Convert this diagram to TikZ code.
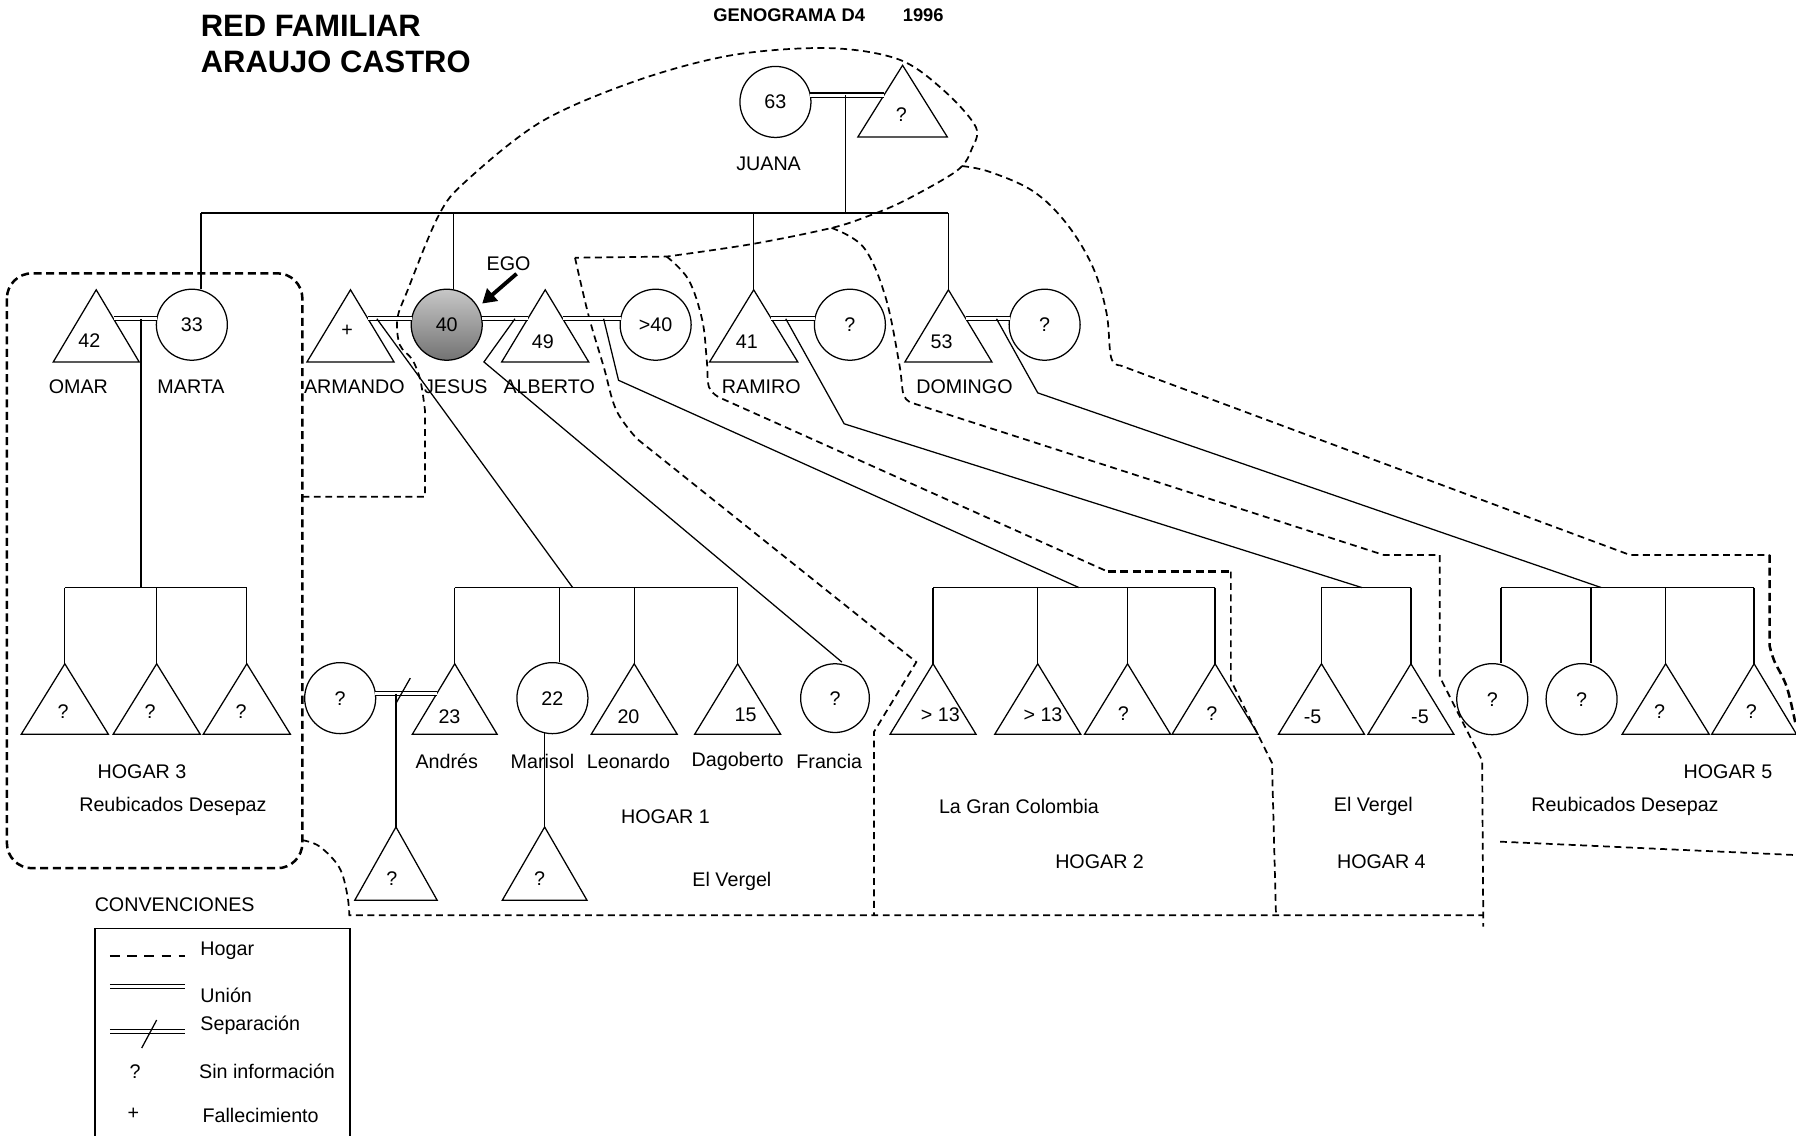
\documentclass[tikz,border=0pt]{standalone}
\usepackage{fontspec}
\setmainfont{Liberation Sans}
\usetikzlibrary{arrows.meta}
\newcommand\fs{\fontsize{8.6}{10}\selectfont}
% name, apex x, apex y, height, half width
\newcommand\Tri[5]{%
  \coordinate (#1) at (#2,#3);
  \draw[person] (#1) -- ++(-#5,#4) -- ++(2*#5,0) -- cycle;}
\begin{document}
\begin{tikzpicture}[x=0.5pt,y=-0.5pt,
  person/.style={line width=0.55pt, line join=miter},
  link/.style={line width=0.55pt},
  circ/.style={circle, draw, line width=0.55pt, minimum size=31pt, inner sep=0pt, font=\fs},
  lbl/.style={font=\fs, inner sep=0pt},
  uni/.style={double, double distance=1.3pt, line width=0.5pt},
  hog/.style={line width=0.75pt, dash pattern=on 3pt off 2pt},
  hogT/.style={line width=1.1pt, dash pattern=on 3.5pt off 2pt},
  egoarrow/.style={line width=1.7pt, -{Triangle[length=6pt,width=7pt]}}
]
\fill[white] (0,0) rectangle (1568,991);
\useasboundingbox (0,0) rectangle (1568,991);

% ---------- titles ----------
\node[anchor=west, inner sep=0, font=\bfseries\fontsize{13.5}{15}\selectfont] (t1) at (175,23) {RED FAMILIAR};
\node[anchor=west, inner sep=0, font=\bfseries\fontsize{13.5}{15}\selectfont] (t2) at (175,54) {ARAUJO CASTRO};
\node[inner sep=0, font=\bfseries\fontsize{8}{9}\selectfont] (t3) at (689,13) {GENOGRAMA D4};
\node[inner sep=0, font=\bfseries\fontsize{8}{9}\selectfont] (t4) at (806,13) {1996};

% ---------- dashed households ----------
\draw[hogT, rounded corners=11pt] (6,238.6) rectangle (264,758);
\draw[hog] (264,433.6) -- (371,433.6) -- (371,362) -- plot[smooth,tension=0.55] coordinates {(371,358) (367,332) (360,314) (349,301) (347,278) (356,253) (383,188) (407,158) (473,106) (557,70) (640,48) (724,42) (785,52) (824,79) (852,111) (848,131) (840,145) (823,157) (786,177) (757,189) (726,199) (657,213) (582,224)} -- (502,225);
\draw[hog] plot[smooth,tension=0.6] coordinates {(502,225) (514,276) (527,320) (538,358) (556,383)} -- (800,578) -- (763,639) -- (763,799);
\draw[hog] plot[smooth,tension=0.6] coordinates {(582,224) (601,244) (613,279) (617,314) (619,338) (628,347)} -- (967,499);
\draw[hogT] (967,499) -- (1074.6,499);
\draw[hog] (1074.6,499) -- (1074.6,594) -- (1110.5,666) -- (1114,799);
\draw[hog] plot[smooth,tension=0.6] coordinates {(726,199) (754,216) (773,259) (785,317) (789,345) (797,352)} -- (1208,484.5) -- (1257,484.5) -- (1257,591) -- (1294,664) -- (1295,809);
\draw[hog] plot[smooth,tension=0.6] coordinates {(840,145) (864,150) (902,167) (931,195) (954,233) (966,273) (970,312) (978,319)} -- (1423,484.5) -- (1545,484.5);
\draw[hogT] (1545,484.5) -- (1545,564) -- plot[smooth,tension=0.6] coordinates {(1545,564) (1549,577) (1560,600) (1568,634)};
\draw[hog] plot[smooth,tension=0.6] coordinates {(264,733.5) (279,739) (296,757) (303,780) (305,799)} -- (1295,799);
\draw[hog] (1309.6,734.8) -- (1568,746.5);

% ---------- generation 1 ----------
\node[circ] (juana) at (677,89) {63};
\Tri{jp}{788}{57}{62.5}{39}
\node[lbl] (jpq) at (787,100) {?};
\node[lbl] (njuana) at (671,142.6) {JUANA};
\coordinate (uJa) at (707.5,83);
\coordinate (uJb) at (772,83);
\coordinate (uJm) at (738,83);
\coordinate (sJ) at (738,186);
\draw[uni] (uJa) -- (uJb);
\draw[link] (uJm) -- (sJ);

% sibling bar
\coordinate (sbL) at (175.5,186);
\coordinate (sbR) at (828,186);
\coordinate (sJe) at (396,186);
\coordinate (sRa) at (658,186);
\draw[link] (sbL) -- (sbR);

% ---------- generation 2 ----------
\Tri{omar}{84}{253}{63}{37.5}
\node[lbl] (nomar42) at (78,297) {42};
\node[circ] (marta) at (167.5,283.5) {33};
\Tri{armando}{306}{253}{63}{38}
\node[lbl] (narm) at (303,289) {+};
\node[circ, top color=black!22, bottom color=black!55] (jesus) at (390,283.5) {40};
\Tri{alberto}{476}{253}{63}{38}
\node[lbl] (nalb49) at (474,298) {49};
\node[circ] (gt) at (572.4,283.5) {>40};
\Tri{ramiro}{658}{253}{63}{38.5}
\node[lbl] (nram41) at (652,298) {41};
\node[circ] (rp) at (742,283.5) {?};
\Tri{domingo}{828}{253}{63}{38}
\node[lbl] (ndom53) at (822,298) {53};
\node[circ] (dp) at (912,283.5) {?};

\draw[link] (sbL) -- (sbL |- marta.north);
\draw[link] (sJe) -- (sJe |- jesus.north);
\draw[link] (sRa) -- (ramiro);
\draw[link] (sbR) -- (domingo);

\node[lbl] (lomar) at (68.4,337.6) {OMAR};
\node[lbl] (lmarta) at (166.8,337.6) {MARTA};
\node[lbl] (larm) at (309.4,337.6) {ARMANDO};
\node[lbl] (ljes) at (398,337.6) {JESUS};
\node[lbl] (lalb) at (479.5,337.6) {ALBERTO};
\node[lbl] (lram) at (664.7,337.6) {RAMIRO};
\node[lbl] (ldom) at (842,337.6) {DOMINGO};

% EGO
\node[lbl] (ego) at (444,230) {EGO};
\coordinate (egoA) at (451,239);
\coordinate (egoB) at (421,265);
\draw[egoarrow] (egoA) -- (egoB);

% unions gen 2
\coordinate (uOMa) at (99.5,278.3);  \coordinate (uOMb) at (137,278.3);  \coordinate (uOMm) at (123,278.3);
\coordinate (uAJa) at (321.3,278.3); \coordinate (uAJb) at (359.4,278.3); \coordinate (uAJm) at (329,278.3);
\coordinate (uJAa) at (420.6,278.3); \coordinate (uJAb) at (460.7,278.3); \coordinate (uJAm) at (449.6,278.3);
\coordinate (uAGa) at (491.3,278.3); \coordinate (uAGb) at (541.8,278.3); \coordinate (uAGm) at (527,278.3);
\coordinate (uRPa) at (673.5,278.3); \coordinate (uRPb) at (711.4,278.3); \coordinate (uRPm) at (686,278.3);
\coordinate (uDPa) at (843,278.3);   \coordinate (uDPb) at (881.4,278.3); \coordinate (uDPm) at (870,278.3);
\draw[uni] (uOMa) -- (uOMb);
\draw[uni] (uAJa) -- (uAJb);
\draw[uni] (uJAa) -- (uJAb);
\draw[uni] (uAGa) -- (uAGb);
\draw[uni] (uRPa) -- (uRPb);
\draw[uni] (uDPa) -- (uDPb);

% child bars
\coordinate (h3p) at (123,513);
\coordinate (h3L) at (56.6,513);  \coordinate (h3M) at (136.8,513); \coordinate (h3R) at (215.5,513);
\coordinate (h1p) at (500,513);
\coordinate (h1L) at (397,513);   \coordinate (h1M) at (488.6,513); \coordinate (h1N) at (553.7,513); \coordinate (h1R) at (644,513);
\coordinate (h2p) at (942,513);
\coordinate (h2L) at (814.6,513); \coordinate (h2M) at (906,513);   \coordinate (h2N) at (984.4,513); \coordinate (h2R) at (1060.8,513);
\coordinate (h4p) at (1189,513);
\coordinate (h4L) at (1153.7,513); \coordinate (h4R) at (1231.8,513);
\coordinate (h5p) at (1398,513);
\coordinate (h5L) at (1310.5,513); \coordinate (h5M) at (1389,513); \coordinate (h5N) at (1454.2,513); \coordinate (h5R) at (1531.4,513);
\draw[link] (h3L) -- (h3R);
\draw[link] (h1L) -- (h1R);
\draw[link] (h2L) -- (h2R);
\draw[link] (h4L) -- (h4R);
\draw[link] (h5L) -- (h5R);

% descents
\coordinate (bJA) at (422.5,316);
\coordinate (bAG) at (540,332);
\coordinate (bRP) at (737,370);
\coordinate (bDP) at (906,343);
\coordinate (fTop) at (735,578);
\draw[link] (uOMm) -- (h3p);
\draw[link] (uAJm) -- (h1p);
\draw[link] (uJAm) -- (bJA) -- (fTop);
\draw[link] (uAGm) -- (bAG) -- (h2p);
\draw[link] (uRPm) -- (bRP) -- (h4p);
\draw[link] (uDPm) -- (bDP) -- (h5p);

% ---------- generation 3 ----------
% Hogar 3
\Tri{h3a}{56.6}{579.5}{61.5}{38}
\Tri{h3b}{136.8}{579.5}{61.5}{38}
\Tri{h3c}{215.5}{579.5}{61.5}{38}
\draw[link] (h3L) -- (h3a);
\draw[link] (h3M) -- (h3b);
\draw[link] (h3R) -- (h3c);
\node[lbl] (q3a) at (55,621) {?};
\node[lbl] (q3b) at (131,621) {?};
\node[lbl] (q3c) at (210.5,621) {?};
\node[lbl] (hog3) at (124,673.7) {HOGAR 3};
\node[lbl] (rd3) at (151,703.7) {Reubicados Desepaz};

% Hogar 1
\Tri{andres}{397}{579.5}{61.5}{37}
\node[lbl] (n23) at (392.4,625.7) {23};
\node[circ] (marisol) at (482.3,609.5) {22};
\Tri{leonardo}{553.7}{579.5}{61.5}{37.5}
\node[lbl] (n20) at (548.7,625.7) {20};
\Tri{dagoberto}{644}{579.5}{61.5}{37.5}
\node[lbl] (n15) at (651,624) {15};
\node[circ, minimum size=30pt] (francia) at (729,609.5) {?};
\node[circ] (ap) at (297,609.5) {?};
\draw[link] (h1L) -- (andres);
\draw[link] (h1M) -- (h1M |- marisol.north);
\draw[link] (h1N) -- (leonardo);
\draw[link] (h1R) -- (dagoberto);
% separation
\coordinate (sepA) at (327.6,605.5);
\coordinate (sepB) at (381.6,605.5);
\coordinate (sepM) at (345.7,605.5);
\coordinate (slA) at (345.7,614);
\coordinate (slB) at (358.2,592);
\draw[uni] (sepA) -- (sepB);
\draw[link] (slA) -- (slB);
\Tri{ac}{345.7}{722}{64}{36}
\draw[link] (sepM) -- (ac);
\node[lbl] (qac) at (342,766.7) {?};
\coordinate (mcs) at (475.5,639.7);
\Tri{mc}{475.5}{722}{64}{37}
\draw[link] (mcs) -- (mc);
\node[lbl] (qmc) at (471,767) {?};
\node[lbl] (landres) at (390,665) {Andrés};
\node[lbl] (lmarisol) at (473.6,665) {Marisol};
\node[lbl] (lleo) at (548.7,665) {Leonardo};
\node[lbl] (ldago) at (644,665) {Dagoberto};
\node[lbl] (lfran) at (724,665) {Francia};
\node[lbl] (hog1) at (581,713) {HOGAR 1};
\node[lbl] (ev1) at (639,769.8) {El Vergel};

% Hogar 2
\Tri{g2a}{814.6}{579.5}{61.5}{37.5}
\Tri{g2b}{906}{579.5}{61.5}{37.5}
\Tri{g2c}{984.4}{579.5}{61.5}{37.5}
\Tri{g2d}{1060.8}{579.5}{61.5}{37.5}
\draw[link] (h2L) -- (g2a);
\draw[link] (h2M) -- (g2b);
\draw[link] (h2N) -- (g2c);
\draw[link] (h2R) -- (g2d);
\node[lbl] (t2a) at (821,624) {> 13};
\node[lbl] (t2b) at (910.6,624) {> 13};
\node[lbl] (t2c) at (980.7,622.7) {?};
\node[lbl] (t2d) at (1058,622.7) {?};
\node[lbl] (lgc) at (889.6,703.7) {La Gran Colombia};
\node[lbl] (hog2) at (960,752) {HOGAR 2};

% Hogar 4
\Tri{g4a}{1153.7}{579.5}{61.5}{37.5}
\Tri{g4b}{1231.8}{579.5}{61.5}{37.5}
\draw[link] (h4L) -- (g4a);
\draw[link] (h4R) -- (g4b);
\node[lbl] (t4a) at (1146,625.7) {-5};
\node[lbl] (t4b) at (1239.7,625.7) {-5};
\node[lbl] (ev4) at (1199,703.7) {El Vergel};
\node[lbl] (hog4) at (1206,752) {HOGAR 4};

% Hogar 5
\node[circ] (g5a) at (1302.8,610.4) {?};
\node[circ] (g5b) at (1380.8,610.4) {?};
\Tri{g5c}{1454.2}{579.5}{61.5}{38}
\Tri{g5d}{1531.4}{579.5}{61.5}{37}
\draw[link] (h5L) -- (h5L |- g5a.north);
\draw[link] (h5M) -- (h5M |- g5b.north);
\draw[link] (h5N) -- (g5c);
\draw[link] (h5R) -- (g5d);
\node[lbl] (t5c) at (1449,621) {?};
\node[lbl] (t5d) at (1529,621) {?};
\node[lbl] (hog5) at (1508.6,673.7) {HOGAR 5};
\node[lbl] (rd5) at (1418.7,703.7) {Reubicados Desepaz};

% ---------- legend ----------
\node[lbl] (conv) at (152.5,790) {CONVENCIONES};
\coordinate (bxTL) at (83,810.5);
\coordinate (bxTR) at (305.6,810.5);
\coordinate (bxBL) at (83,995);
\coordinate (bxBR) at (305.6,995);
\draw[link] (bxBL) -- (bxTL) -- (bxTR) -- (bxBR);
\coordinate (lg1a) at (96,834.6);   \coordinate (lg1b) at (161.5,834.6);
\draw[line width=0.5pt, dash pattern=on 4.3pt off 3.2pt] (lg1a) -- (lg1b);
\node[lbl, anchor=west] (lhog) at (174.6,830) {Hogar};
\coordinate (lg2a) at (96,861.3);   \coordinate (lg2b) at (161.5,861.3);
\draw[uni] (lg2a) -- (lg2b);
\node[lbl, anchor=west] (luni) at (174.6,868.7) {Unión};
\coordinate (lg3a) at (96,900.7);   \coordinate (lg3b) at (161.5,900.7);
\coordinate (lg3s) at (123.7,915);  \coordinate (lg3t) at (136.8,890.5);
\draw[uni] (lg3a) -- (lg3b);
\draw[link] (lg3s) -- (lg3t);
\node[lbl, anchor=west] (lsep) at (174.6,895) {Separación};
\node[lbl] (lq) at (117.9,935.7) {?};
\node[lbl, anchor=west] (lsin) at (173.5,935.7) {Sin información};
\node[lbl] (lplus) at (116.4,972) {+};
\node[lbl, anchor=west] (lfal) at (176.5,973.5) {Fallecimiento};
\end{tikzpicture}
\end{document}
